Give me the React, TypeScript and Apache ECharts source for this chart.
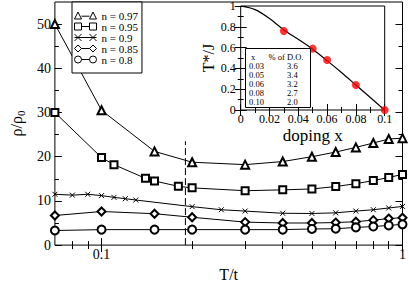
import React, { useEffect, useRef } from "react";
import * as echarts from "echarts";

const FONT = "Liberation Serif";

// main plot data: resistivity rho/rho0 vs T/t
const tTri = [0.07, 0.1, 0.15, 0.2, 0.3, 0.4, 0.5, 0.6, 0.7, 0.8, 0.9, 1.0];
const rhoTri = [50, 30.5, 21.2, 18.75, 18.2, 18.9, 20.0, 21.05, 22.1, 23.1, 24.0, 24.2];

const tSq = [0.07, 0.1, 0.11, 0.14, 0.15, 0.18, 0.2, 0.3, 0.4, 0.5, 0.6, 0.7, 0.8, 0.9, 1.0];
const rhoSq = [30.0, 19.8, 18.2, 15.1, 14.5, 13.3, 12.95, 12.3, 12.5, 12.7, 13.25, 13.9, 14.6, 15.3, 16.0];

const tX = [0.07, 0.08, 0.09, 0.1, 0.11, 0.12, 0.13, 0.2, 0.25, 0.3, 0.4, 0.5, 0.6, 0.7, 0.8, 0.9, 1.0];
const rhoX = [11.5, 11.3, 11.5, 11.2, 10.8, 10.5, 10.2, 8.7, 8.0, 7.7, 7.2, 7.15, 7.3, 7.7, 8.0, 8.4, 8.75];

const tDia = [0.07, 0.1, 0.15, 0.2, 0.3, 0.4, 0.5, 0.6, 0.7, 0.8, 0.9, 1.0];
const rhoDia = [6.7, 7.6, 7.1, 6.3, 5.2, 5.0, 5.0, 5.1, 5.3, 5.65, 6.0, 6.2];

const tCir = [0.07, 0.1, 0.15, 0.2, 0.3, 0.4, 0.5, 0.6, 0.7, 0.8, 0.9, 1.0];
const rhoCir = [3.3, 3.5, 3.5, 3.5, 3.5, 3.5, 3.65, 3.7, 4.0, 4.2, 4.45, 4.7];

const seriesNames = ["n = 0.97", "n = 0.95", "n = 0.9", "n = 0.85", "n = 0.8"];

// dashed marker
const tStar = 0.19;
const dashedRange = [0, 23.5];

// tick values
const majorT = [0.1, 1];
const minorT = [0.08, 0.09, 0.2, 0.3, 0.4, 0.5, 0.6, 0.7, 0.8, 0.9];
const majorRho = [0, 10, 20, 30, 40, 50];
const minorRho = [5, 15, 25, 35, 45];

// inset data: T*/J vs doping x
const curveX = [0, 0.01, 0.02, 0.03, 0.04, 0.05, 0.06, 0.07, 0.08, 0.09, 0.1];
const curveY = [1.0, 0.965, 0.88, 0.77, 0.68, 0.585, 0.475, 0.36, 0.24, 0.12, 0.0];
const dotX = [0.03, 0.05, 0.06, 0.08, 0.1];
const dotY = [0.76, 0.59, 0.48, 0.24, 0.0];

// inset table
const tableHeader = ["x", "% of D.O."];
const tableX = ["0.03", "0.05", "0.06", "0.08", "0.10"];
const tablePct = ["3.6", "3.4", "3.2", "2.7", "2.0"];

const legendIcons = [
  "path://M0,7L3.5,0L7,7Z M15,7L18.5,0L22,7Z M7,4.2L15,4.2",
  "path://M0,0L7,0L7,7L0,7Z M15,0L22,0L22,7L15,7Z M7,3.5L15,3.5",
  "path://M0,0L7,7M7,0L0,7 M15,0L22,7M22,0L15,7 M0,3.5L22,3.5",
  "path://M0,3.5L3.5,0L7,3.5L3.5,7Z M15,3.5L18.5,0L22,3.5L18.5,7Z M7,3.5L15,3.5",
  "path://M0,3.5A3.5,3.5 0 1 1 7,3.5A3.5,3.5 0 1 1 0,3.5Z M15,3.5A3.5,3.5 0 1 1 22,3.5A3.5,3.5 0 1 1 15,3.5Z M7,3.5L15,3.5",
];

export default function App() {
  const ref = useRef<HTMLDivElement>(null);

  useEffect(() => {
    if (!ref.current) return;
    const chart = echarts.init(ref.current, null, { renderer: "svg" });

    const black = "#000";
    const tickStyle = { color: black, width: 1 };

    const mainX = (pos: string, ticks: number[], len: number, labels: boolean, extra: any = {}) => ({
      type: "log",
      logBase: 10,
      gridIndex: 0,
      min: 0.07,
      max: 1,
      position: pos,
      axisLine: { show: false },
      splitLine: { show: false },
      minorTick: { show: false },
      axisTick: { show: true, inside: true, length: len, customValues: ticks, lineStyle: tickStyle },
      axisLabel: labels
        ? {
            show: true,
            customValues: majorT,
            fontFamily: FONT,
            fontSize: 14,
            color: black,
            margin: 2,
            formatter: (v: number) => String(+(+v).toPrecision(3)),
          }
        : { show: false },
      ...extra,
    });

    const mainY = (pos: string, ticks: number[], len: number, labels: boolean, extra: any = {}) => ({
      type: "value",
      gridIndex: 0,
      min: 0,
      max: 55,
      position: pos,
      axisLine: { show: false },
      splitLine: { show: false },
      minorTick: { show: false },
      axisTick: { show: true, inside: true, length: len, customValues: ticks, lineStyle: tickStyle },
      axisLabel: labels
        ? { show: true, customValues: majorRho, fontFamily: FONT, fontSize: 14, color: black, margin: 4 }
        : { show: false },
      ...extra,
    });

    const insetX = (pos: string, labels: boolean, extra: any = {}) => ({
      type: "value",
      gridIndex: 1,
      min: 0,
      max: 0.1,
      interval: 0.02,
      position: pos,
      axisLine: { show: false },
      splitLine: { show: false },
      axisTick: { show: true, inside: true, length: 6, lineStyle: tickStyle },
      minorTick: { show: true, splitNumber: 2, length: 3, lineStyle: tickStyle },
      axisLabel: labels
        ? { show: true, fontFamily: FONT, fontSize: 12, color: black, margin: 3 }
        : { show: false },
      ...extra,
    });

    const insetY = (pos: string, labels: boolean, extra: any = {}) => ({
      type: "value",
      gridIndex: 1,
      min: 0,
      max: 1,
      interval: 0.2,
      position: pos,
      axisLine: { show: false },
      splitLine: { show: false },
      axisTick: { show: true, inside: true, length: 6, lineStyle: tickStyle },
      minorTick: { show: true, splitNumber: 2, length: 3, lineStyle: tickStyle },
      axisLabel: labels
        ? { show: true, fontFamily: FONT, fontSize: 12, color: black, margin: 5 }
        : { show: false },
      ...extra,
    });

    const mainDefs = [
      { t: tTri, v: rhoTri, symbol: "emptyTriangle", size: 8 },
      { t: tSq, v: rhoSq, symbol: "emptyRect", size: 7 },
      { t: tX, v: rhoX, symbol: "path://M0,0L8,8M8,0L0,8", size: 5 },
      { t: tDia, v: rhoDia, symbol: "emptyDiamond", size: 8 },
      { t: tCir, v: rhoCir, symbol: "emptyCircle", size: 8 },
    ];

    const mainSeries = mainDefs.map((d, i) => ({
      name: seriesNames[i],
      type: "line",
      xAxisIndex: 0,
      yAxisIndex: 0,
      data: d.t.map((t, j) => [t, d.v[j]]),
      symbol: d.symbol,
      symbolSize: d.size,
      showAllSymbol: true,
      clip: false,
      lineStyle: { color: black, width: 1 },
      itemStyle: { color: black, borderColor: black, borderWidth: 1 },
      z: 3,
    }));

    const cellStyle = (text: string, x: number, y: number) => ({
      text,
      x,
      y,
      fontFamily: FONT,
      fontSize: 8.5,
      lineHeight: 9,
      fill: black,
      verticalAlign: "middle",
    });

    const tableGraphics: any[] = [
      {
        type: "rect",
        shape: { x: 245.5, y: 48.5, width: 65, height: 59 },
        style: { fill: "#fff", stroke: black, lineWidth: 1 },
        z: 100,
      },
      { type: "text", style: cellStyle(tableHeader[0], 251, 56.5), z: 101 },
      { type: "text", style: cellStyle(tableHeader[1], 268.5, 56.5), z: 101 },
    ];
    tableX.forEach((x, i) => {
      const y = 66 + i * 9.1;
      tableGraphics.push({ type: "text", style: cellStyle(x, 249, y), z: 101 });
      tableGraphics.push({ type: "text", style: cellStyle(tablePct[i], 287, y), z: 101 });
    });

    const option: any = {
      animation: false,
      backgroundColor: "#fff",
      textStyle: { fontFamily: FONT },
      grid: [
        { left: 38, top: 2, width: 364.5, height: 256, show: true, borderColor: black, borderWidth: 1, backgroundColor: "transparent" },
        { left: 240.7, top: 4, width: 144, height: 106, show: true, borderColor: black, borderWidth: 1, backgroundColor: "transparent" },
      ],
      xAxis: [
        mainX("bottom", majorT, 7, true, {
          name: "T/t",
          nameLocation: "middle",
          nameGap: 14,
          nameTextStyle: { fontFamily: FONT, fontSize: 16, color: black, verticalAlign: "top" },
        }),
        mainX("bottom", minorT, 4, false),
        mainX("top", majorT, 7, false),
        mainX("top", minorT, 4, false),
        insetX("bottom", true, {
          name: "doping x",
          nameLocation: "middle",
          nameGap: 17,
          nameTextStyle: { fontFamily: FONT, fontSize: 17, color: black, verticalAlign: "top" },
        }),
        insetX("top", false),
      ],
      yAxis: [
        mainY("left", majorRho, 7, true, {
          name: "{a|ρ/ρ}{b|0}",
          nameLocation: "middle",
          nameGap: 16,
          nameTextStyle: {
            color: black,
            rich: {
              a: { fontFamily: FONT, fontSize: 16, lineHeight: 20, verticalAlign: "middle", color: black },
              b: { fontFamily: FONT, fontSize: 11, lineHeight: 11, verticalAlign: "bottom", color: black },
            },
          },
        }),
        mainY("left", minorRho, 4, false),
        mainY("right", majorRho, 7, false),
        mainY("right", minorRho, 4, false),
        insetY("left", true, {
          name: "T*/J",
          nameLocation: "middle",
          nameGap: 22,
          nameTextStyle: { fontFamily: FONT, fontSize: 16, color: black },
        }),
        insetY("right", false),
      ],
      legend: {
        orient: "vertical",
        left: 72,
        top: 2,
        padding: [8, 4, 8, 2],
        itemWidth: 22,
        itemHeight: 7,
        itemGap: 0,
        borderColor: black,
        borderWidth: 1,
        backgroundColor: "#fff",
        selectedMode: false,
        textStyle: { fontFamily: FONT, fontSize: 11, color: black, lineHeight: 10 },
        data: seriesNames.map((n, i) => ({
          name: n,
          icon: legendIcons[i],
          itemStyle: { color: "transparent", borderColor: black, borderWidth: 1 },
        })),
      },
      graphic: tableGraphics,
      series: [
        ...mainSeries,
        {
          name: "T*",
          type: "line",
          xAxisIndex: 0,
          yAxisIndex: 0,
          data: dashedRange.map((v) => [tStar, v]),
          symbol: "none",
          lineStyle: { color: black, width: 1, type: [7, 3] },
          z: 2,
        },
        {
          name: "curve",
          type: "line",
          xAxisIndex: 4,
          yAxisIndex: 4,
          data: curveX.map((x, i) => [x, curveY[i]]),
          symbol: "none",
          smooth: 0.3,
          lineStyle: { color: black, width: 1.2 },
          z: 3,
        },
        {
          name: "dots",
          type: "scatter",
          xAxisIndex: 4,
          yAxisIndex: 4,
          data: dotX.map((x, i) => [x, dotY[i]]),
          symbol: "circle",
          symbolSize: 8,
          clip: false,
          itemStyle: { color: "#ff0000" },
          z: 4,
        },
      ],
    };

    chart.setOption(option);
    return () => chart.dispose();
  }, []);

  return (
    <div
      ref={ref}
      style={{ position: "absolute", left: 0, top: 0, width: 409, height: 287 }}
    />
  );
}
